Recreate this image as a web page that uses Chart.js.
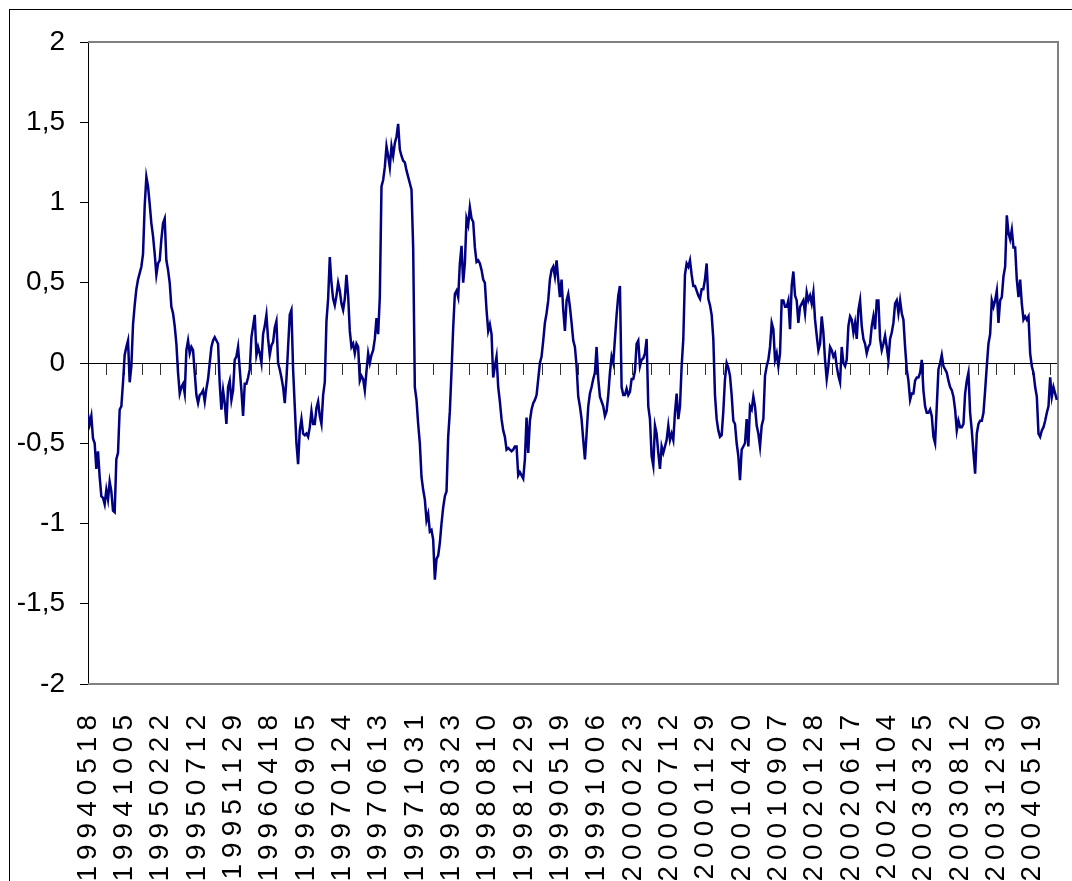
<!DOCTYPE html>
<html>
<head>
<meta charset="utf-8">
<script src="https://cdn.jsdelivr.net/npm/chart.js@4.4.1/dist/chart.umd.min.js"></script>
<style>
html,body{margin:0;padding:0;background:#fff;overflow:hidden;}
#wrap{width:1072px;height:881px;}
</style>
</head>
<body>
<div id="wrap"><canvas id="chart" width="1072" height="881"></canvas></div>
<script>
// date shown under every 100th trading day
const tickDates = [
"19940518","19941005","19950222","19950712","19951129","19960418","19960905",
"19970124","19970613","19971031","19980323","19980810","19981229","19990519",
"19991006","20000223","20000712","20001129","20010420","20010907","20020128",
"20020617","20021104","20030325","20030812","20031230","20040519"
];

// one reading every DAYS_PER_POINT trading days
const DAYS_PER_POINT = 4.59;
const DAY_MAX = 2670;

const series = [
// 1994-05 .. 1995-10
-0.32,-0.38,-0.33,-0.47,-0.5,-0.66,-0.55,-0.71,-0.83,-0.84,
-0.88,-0.79,-0.85,-0.74,-0.8,-0.92,-0.93,-0.6,-0.56,-0.29,
-0.27,-0.12,0.05,0.1,0.14,-0.12,-0.02,0.24,0.36,0.46,
0.52,0.56,0.6,0.68,0.98,1.16,1.1,0.99,0.87,0.79,
0.68,0.55,0.62,0.64,0.77,0.87,0.9,0.64,0.58,0.5,
0.35,0.31,0.23,0.12,-0.06,-0.19,-0.15,-0.13,-0.19,0.08,
0.14,0.06,0.1,0.08,-0.06,-0.2,-0.25,-0.2,-0.19,-0.17,
-0.24,-0.16,-0.1,0.0,0.1,0.14,0.16,0.14,0.12,-0.13,
-0.29,-0.17,-0.25,-0.38,-0.15,-0.11,-0.23,-0.17,0.02,0.04,
0.1,-0.04,-0.17,-0.33,-0.13,-0.13,-0.09,-0.04,0.16,0.23,
// 1995-10 .. 1997-11
0.3,0.05,0.1,0.06,0.0,0.18,0.23,0.3,0.15,0.05,
0.11,0.13,0.22,0.26,0.0,-0.04,-0.09,-0.15,-0.25,-0.1,
0.1,0.3,0.33,-0.04,-0.27,-0.5,-0.63,-0.42,-0.35,-0.44,
-0.45,-0.44,-0.46,-0.4,-0.3,-0.38,-0.38,-0.28,-0.24,-0.33,
-0.38,-0.2,-0.12,0.26,0.4,0.66,0.5,0.4,0.36,0.42,
0.5,0.45,0.37,0.33,0.4,0.55,0.42,0.2,0.1,0.12,
0.06,0.12,0.1,-0.11,-0.08,-0.1,-0.17,-0.05,0.06,0.0,
0.05,0.08,0.15,0.28,0.18,0.41,1.1,1.14,1.22,1.35,
1.29,1.22,1.35,1.29,1.37,1.41,1.49,1.33,1.29,1.26,
1.25,1.2,1.16,1.12,1.08,0.72,-0.15,-0.23,-0.38,
// 1997-11 .. 1999-09
-0.5,-0.71,-0.79,-0.85,-0.98,-0.94,-1.05,-1.04,-1.1,-1.35,
-1.22,-1.2,-1.12,-1.0,-0.9,-0.83,-0.8,-0.46,-0.3,-0.05,
0.22,0.43,0.45,0.41,0.62,0.73,0.5,0.62,0.9,0.86,
0.97,0.9,0.88,0.72,0.63,0.64,0.62,0.58,0.52,0.5,
0.33,0.2,0.24,0.18,-0.09,-0.02,0.04,-0.15,-0.24,-0.35,
-0.42,-0.46,-0.54,-0.53,-0.54,-0.55,-0.54,-0.52,-0.52,-0.7,
-0.68,-0.7,-0.72,-0.6,-0.34,-0.56,-0.36,-0.29,-0.25,-0.23,
-0.2,-0.1,0.0,0.04,0.14,0.25,0.31,0.39,0.52,0.58,
0.6,0.54,0.64,0.52,0.41,0.52,0.33,0.2,0.39,0.43,
0.35,0.25,0.14,0.1,-0.02,
// 1999-09 .. 2001-07
-0.21,-0.27,-0.35,-0.48,-0.6,-0.44,-0.27,-0.19,-0.15,-0.1,
-0.06,0.1,-0.1,-0.21,-0.24,-0.27,-0.33,-0.3,-0.2,-0.06,
0.04,0.0,0.15,0.3,0.42,0.48,-0.15,-0.2,-0.2,-0.16,
-0.2,-0.18,-0.1,-0.1,-0.05,0.12,0.14,-0.02,0.02,0.03,
0.06,0.15,-0.27,-0.35,-0.58,-0.64,-0.39,-0.44,-0.56,-0.66,
-0.52,-0.56,-0.52,-0.48,-0.39,-0.48,-0.44,-0.48,-0.31,-0.19,
-0.35,-0.27,-0.02,0.15,0.55,0.62,0.6,0.64,0.55,0.48,
0.48,0.45,0.42,0.4,0.46,0.46,0.52,0.62,0.4,0.36,
0.3,0.15,-0.2,-0.35,-0.42,-0.46,-0.45,-0.3,-0.1,0.0,
-0.03,-0.08,-0.2,-0.36,-0.38,-0.5,
// 2001-07 .. 2003-01
-0.58,-0.73,-0.54,-0.52,-0.5,-0.35,-0.52,-0.27,-0.29,-0.21,
-0.27,-0.39,-0.44,-0.52,-0.39,-0.35,-0.08,-0.02,0.02,0.1,
0.25,0.21,0.02,0.06,-0.02,0.06,0.39,0.39,0.35,0.35,
0.39,0.21,0.48,0.57,0.42,0.39,0.25,0.35,0.37,0.39,
0.31,0.44,0.39,0.42,0.37,0.44,0.27,0.17,0.08,0.12,
0.29,0.19,0.02,-0.1,-0.02,0.1,0.08,0.04,0.06,-0.02,
-0.08,-0.12,0.1,0.0,-0.02,0.02,0.23,0.29,0.27,0.19,
0.25,0.15,0.33,0.39,0.23,0.15,0.12,0.06,0.1,0.12,
0.23,0.29,0.21,0.39,0.39,0.15,0.08,0.12,0.17,0.1,
0.02,0.15,0.19,0.25,0.37,0.39,
// 2003-01 .. 2004-06
0.31,0.39,0.31,0.27,0.1,-0.04,-0.11,-0.23,-0.19,-0.19,
-0.11,-0.09,-0.09,-0.06,0.02,-0.17,-0.27,-0.31,-0.31,-0.29,
-0.33,-0.46,-0.5,-0.27,-0.04,0.0,0.05,-0.02,-0.04,-0.06,
-0.11,-0.15,-0.17,-0.21,-0.29,-0.42,-0.36,-0.4,-0.4,-0.38,
-0.19,-0.11,-0.06,-0.31,-0.42,-0.56,-0.69,-0.44,-0.38,-0.36,
-0.36,-0.31,-0.17,-0.02,0.12,0.18,0.39,0.35,0.39,0.45,
0.25,0.39,0.41,0.54,0.6,0.92,0.81,0.77,0.83,0.72,
0.72,0.52,0.41,0.52,0.37,0.27,0.29,0.27,0.29,0.06,
-0.02,-0.06,-0.15,-0.21,-0.44,-0.46,-0.42,-0.4,-0.36,-0.31,
-0.27,-0.09,-0.21,-0.15,-0.19,-0.23
];

const points = series.map((v,i)=>({x:i*DAYS_PER_POINT, y:v}));

const FONT = "'Liberation Sans', Arial, sans-serif";

// excel look: outer frame, grey plot border, spaced-out date labels
const excelFrame = {
id:"excelFrame",
beforeDraw(chart){
const c = chart.ctx;
c.save();
c.strokeStyle = "#000";
c.lineWidth = 1;
c.strokeRect(9.5,9.5,1200,1000);
c.restore();
},
beforeDatasetsDraw(chart){
const a = chart.chartArea;
const c = chart.ctx;
c.save();
c.strokeStyle = "#808080";
c.lineWidth = 2;
c.beginPath();
c.moveTo(a.left,a.top);
c.lineTo(a.right,a.top);
c.lineTo(a.right,a.bottom);
c.lineTo(a.left,a.bottom);
c.stroke();
c.restore();
},
afterDatasetsDraw(chart){
chart.ctx.letterSpacing = "6px";
},
afterDraw(chart){
chart.ctx.letterSpacing = "0px";
}
};

new Chart(
document.getElementById("chart"),
{
type:"line",
data:{
datasets:[{
data:points,
xAxisID:"x",
yAxisID:"y",
borderColor:"#000080",
borderWidth:2.5,
pointRadius:0,
tension:0,
fill:false
}]
},
options:{
responsive:false,
animation:false,
devicePixelRatio:1,
layout:{padding:{left:0,top:42,right:14,bottom:0}},
plugins:{legend:{display:false},tooltip:{enabled:false}},
scales:{
x:{
type:"linear",
position:"bottom",
min:0,
max:DAY_MAX,
grid:{display:false},
border:{display:false},
ticks:{
stepSize:100,
includeBounds:false,
autoSkip:false,
minRotation:90,
maxRotation:90,
padding:17,
z:1,
color:"#000",
font:{family:FONT,size:28},
callback:v=> tickDates[v/100] || ""
},
afterFit(s){
s.height = 881-684;
s.paddingLeft = 0;
s.paddingRight = 0;
}
},
x0:{
axis:"x",
type:"linear",
position:{y:0},
min:0,
max:DAY_MAX,
grid:{drawOnChartArea:false,drawTicks:true,tickLength:11,color:"#333"},
border:{display:true,color:"#000",width:1},
ticks:{display:false,stepSize:50,includeBounds:false,autoSkip:false},
afterFit(s){
s.paddingLeft = 0;
s.paddingRight = 0;
}
},
y:{
position:"left",
min:-2,
max:2,
grid:{drawOnChartArea:false,drawTicks:true,tickLength:8,color:"#000"},
border:{color:"#000",width:1},
ticks:{
stepSize:0.5,
padding:15,
color:"#000",
font:{family:FONT,size:28},
callback:v=> String(v).replace(".",",")
},
afterFit(s){ s.width = 88; }
}
}
},
plugins:[excelFrame]
}
);
</script>
</body>
</html>
